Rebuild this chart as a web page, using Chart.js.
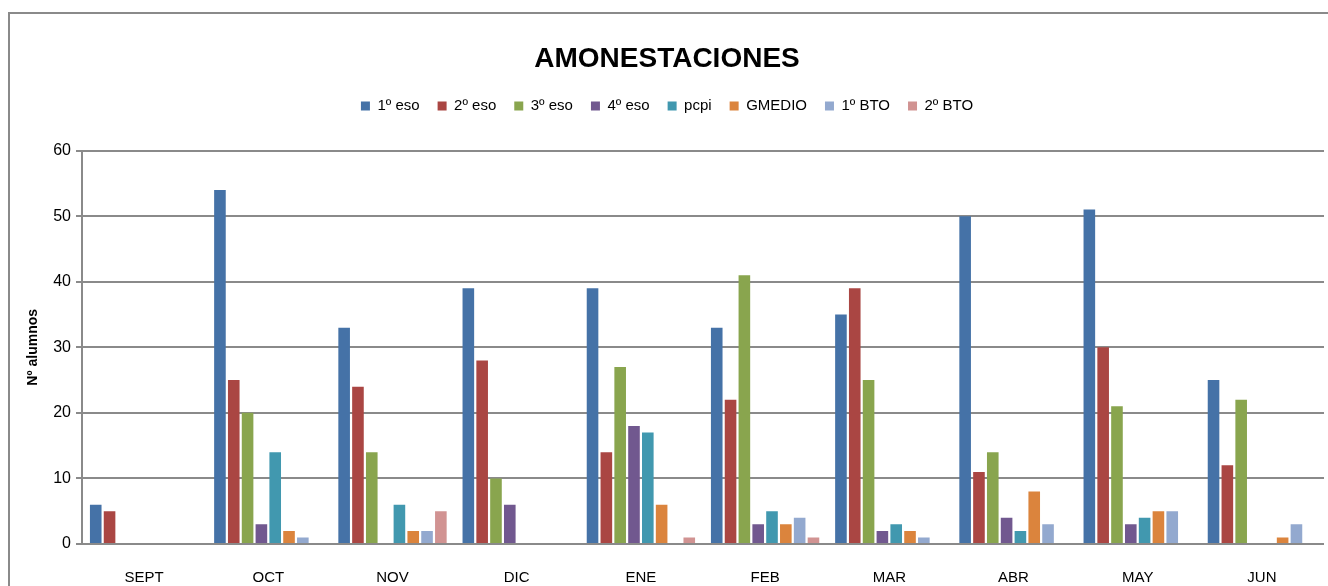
<!DOCTYPE html>
<html>
<head>
<meta charset="utf-8">
<script src="https://cdn.jsdelivr.net/npm/chart.js@4.4.1/dist/chart.umd.min.js"></script>
<style>
  html, body { margin: 0; padding: 0; background: #fff; }
  #wrap { position: relative; width: 1328px; height: 586px; }
</style>
</head>
<body>
<div id="wrap"><canvas id="amonestaciones"></canvas></div>
<script>
const meses = ['SEPT', 'OCT', 'NOV', 'DIC', 'ENE', 'FEB', 'MAR', 'ABR', 'MAY', 'JUN'];

const eso1 = [6, 54, 33, 39, 39, 33, 35, 50, 51, 25];
const eso2 = [5, 25, 24, 28, 14, 22, 39, 11, 30, 12];
const eso3 = [0, 20, 14, 10, 27, 41, 25, 14, 21, 22];
const eso4 = [0, 3, 0, 6, 18, 3, 2, 4, 3, 0];
const pcpi = [0, 14, 6, 0, 17, 5, 3, 2, 4, 0];
const gmedio = [0, 2, 2, 0, 6, 3, 2, 8, 5, 1];
const bto1 = [0, 1, 2, 0, 0, 4, 1, 3, 5, 3];
const bto2 = [0, 0, 5, 0, 1, 1, 0, 0, 0, 0];

const yTicks = [0, 10, 20, 30, 40, 50, 60];

const fuente = "'Liberation Sans', sans-serif";
const gris = '#8a8a8a';

// marco gris del grafico (como en Excel)
const marco = {
    id: 'marco',
    beforeDraw(chart) {
        const ctx = chart.ctx;
        ctx.save();
        ctx.strokeStyle = gris;
        ctx.lineWidth = 2;
        ctx.beginPath();
        ctx.moveTo(9, chart.height + 5);
        ctx.lineTo(9, 13);
        ctx.lineTo(chart.width + 5, 13);
        ctx.stroke();
        ctx.restore();
    }
};

// algo mas de aire debajo de la leyenda
const aireLeyenda = {
    id: 'aireLeyenda',
    beforeInit(chart) {
        const fitOrig = chart.legend.fit;
        chart.legend.fit = function () {
            fitOrig.bind(chart.legend)();
            this.height += 27;
        };
    }
};

const ctx = document.getElementById('amonestaciones').getContext('2d');
const grafico = new Chart(ctx, {
    type: 'bar',
    data: {
        labels: meses,
        datasets: [
            { label: '1º eso', data: eso1, backgroundColor: '#4572A7' },
            { label: '2º eso', data: eso2, backgroundColor: '#AA4643' },
            { label: '3º eso', data: eso3, backgroundColor: '#89A54E' },
            { label: '4º eso', data: eso4, backgroundColor: '#71588F' },
            { label: 'pcpi', data: pcpi, backgroundColor: '#4198AF' },
            { label: 'GMEDIO', data: gmedio, backgroundColor: '#DB843D' },
            { label: '1º BTO', data: bto1, backgroundColor: '#93A9CF' },
            { label: '2º BTO', data: bto2, backgroundColor: '#D19392' }
        ]
    },
    options: {
        responsive: true,
        maintainAspectRatio: false,
        animation: false,
        categoryPercentage: 0.89,
        barPercentage: 0.84,
        layout: {
            padding: { left: 10, right: 4, top: 12, bottom: 0 }
        },
        plugins: {
            title: {
                display: true,
                text: 'AMONESTACIONES',
                color: '#000',
                font: { family: fuente, size: 28, weight: 'bold' },
                padding: { top: 30, bottom: 5 }
            },
            legend: {
                display: true,
                labels: {
                    color: '#000',
                    font: { family: fuente, size: 15 },
                    boxWidth: 9,
                    boxHeight: 9,
                    padding: 18
                }
            },
            tooltip: { enabled: false }
        },
        scales: {
            x: {
                afterFit(scale) { scale.height = 42; },
                grid: { display: false },
                border: { display: false },
                ticks: {
                    color: '#000',
                    font: { family: fuente, size: 15 },
                    padding: 17
                }
            },
            y: {
                min: 0,
                max: 60,
                afterFit(scale) { scale.width = 72; },
                afterBuildTicks(scale) { scale.ticks = yTicks.map(v => ({ value: v })); },
                grid: {
                    color: gris,
                    lineWidth: 2,
                    tickLength: 6
                },
                border: { color: gris, width: 2 },
                ticks: {
                    color: '#000',
                    font: { family: fuente, size: 16 },
                    padding: 5
                },
                title: {
                    display: true,
                    text: 'Nº alumnos',
                    color: '#000',
                    font: { family: fuente, size: 14, weight: 'bold' },
                    padding: { top: 15, bottom: 0 }
                }
            }
        }
    },
    plugins: [marco, aireLeyenda]
});
</script>
</body>
</html>
